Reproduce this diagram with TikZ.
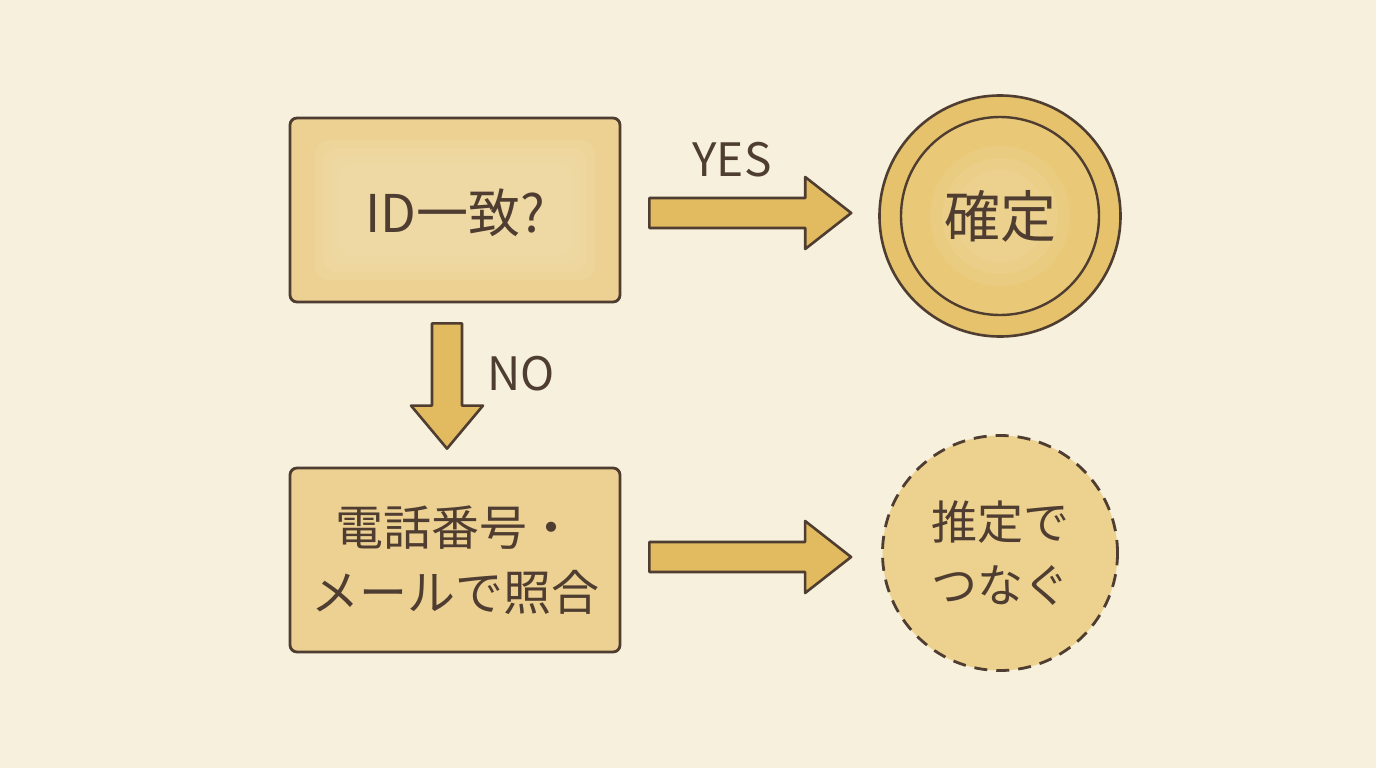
\documentclass[tikz,border=0pt]{standalone}
\usepackage{fontspec}
\setmainfont{Noto Sans CJK JP}
\usetikzlibrary{calc}
\definecolor{bg}{HTML}{F6F0DC}
\definecolor{ink}{HTML}{4E3D30}
\definecolor{boxfill}{HTML}{ECD193}
\definecolor{boxlight}{HTML}{F3E2B6}
\definecolor{ringfill}{HTML}{E6C26C}
\definecolor{corefill}{HTML}{E9C978}
\definecolor{dashfill}{HTML}{EDD18E}
\definecolor{arrowfill}{HTML}{E2BB60}
\tikzset{
  procbox/.style={draw=ink, line width=2.8pt, fill=boxfill, rounded corners=7pt,
    minimum width=330pt, minimum height=184pt, inner sep=0pt, text=ink,
    font=\fontsize{48pt}{65pt}\selectfont, align=center},
  okcircle/.style={circle, draw=ink, line width=2.6pt, fill=ringfill,
    minimum size=241pt, inner sep=0pt, text=ink, font=\fontsize{56pt}{66pt}\selectfont},
  guesscircle/.style={circle, draw=ink, line width=2.8pt, fill=dashfill,
    dash pattern=on 13pt off 9pt, minimum size=235pt, inner sep=0pt, text=ink,
    font=\fontsize{46pt}{63pt}\selectfont, align=center},
  barrow/.style={draw=ink, line width=2.6pt, fill=arrowfill, line join=round},
  lbl/.style={text=ink, font=\fontsize{46pt}{50pt}\selectfont, inner sep=0pt}
}
\newcommand\harrow[2]{%
  \draw[barrow] ($(#1)+(0,15)$) -- ($(#2)+(-46,15)$) -- ($(#2)+(-46,36)$) -- (#2)
    -- ($(#2)+(-46,-36)$) -- ($(#2)+(-46,-15)$) -- ($(#1)+(0,-15)$) -- cycle;}
\newcommand\varrow[2]{%
  \draw[barrow] ($(#1)+(-15,0)$) -- ($(#2)+(-15,-43)$) -- ($(#2)+(-36,-43)$) -- (#2)
    -- ($(#2)+(36,-43)$) -- ($(#2)+(15,-43)$) -- ($(#1)+(15,0)$) -- cycle;}
\begin{document}
\begin{tikzpicture}[x=1pt,y=-1pt]
  \fill[bg] (0,0) rectangle (1376,768);
  \useasboundingbox (0,0) rectangle (1376,768);

  \node[procbox] (q) at (455,210) {};
  \foreach \d/\o in {0/0.18,8/0.18,16/0.18,24/0.18}{
    \fill[boxlight, opacity=\o, rounded corners=14pt] (315+\d,140+\d) rectangle (595-\d,280-\d);}
  \node[text=ink, font=\fontsize{52pt}{60pt}\selectfont] (qt) at (455,213) {ID一致?};

  \node[procbox] (m) at (455,560) {電話番号・\\メールで照合};

  \node[okcircle] (ok) at (1000,216) {};
  \draw[ink, line width=2.4pt, fill=corefill] (ok.center) circle (99pt);
  \foreach \r in {70,58,46}{\fill[boxlight, opacity=0.15] (ok.center) circle (\r pt);}
  \node[text=ink, font=\fontsize{56pt}{66pt}\selectfont] (okt) at (ok.center) {確定};

  \node[guesscircle] (gs) at (1000,553) {推定で\\つなぐ};

  \coordinate (a1s) at ([xshift=28pt,yshift=-3pt]q.east);
  \coordinate (a1e) at ($(a1s -| ok.west)+(-27,0)$);
  \harrow{a1s}{a1e}
  \node[lbl] (yes) at (732,160) {YES};

  \coordinate (a2s) at ([xshift=28pt,yshift=3pt]m.east);
  \coordinate (a2e) at ($(a2s -| gs.west)+(-30,0)$);
  \harrow{a2s}{a2e}

  \coordinate (a3s) at ([xshift=-8pt,yshift=-20pt]q.south);
  \coordinate (a3e) at ([xshift=-8pt,yshift=18pt]m.north);
  \varrow{a3s}{a3e}
  \node[lbl] (no) at (521,374) {NO};
\end{tikzpicture}
\end{document}
